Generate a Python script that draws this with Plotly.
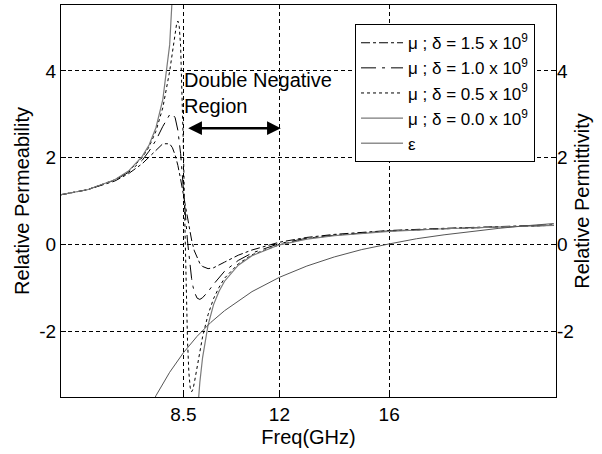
import plotly.graph_objects as go

# ---- data ----
freq_d15 = [4, 5, 6, 6.5, 7, 7.25, 7.5, 7.75, 8.0, 8.1, 8.2, 8.3, 8.4, 8.5, 8.6, 8.7, 8.8, 8.9, 9.0, 9.1,
            9.2, 9.4, 9.6, 9.8, 10, 10.5, 11, 12, 13, 14, 16, 18, 20, 22]
mu_d15 = [1.14, 1.26, 1.46, 1.63, 1.86, 2.02, 2.18, 2.32, 2.32, 2.23, 2.06, 1.82, 1.50, 1.14, 0.77, 0.41,
          0.10, -0.15, -0.32, -0.44, -0.51, -0.56, -0.54, -0.48, -0.41, -0.25, -0.13, 0.05, 0.16, 0.23,
          0.32, 0.37, 0.41, 0.45]

freq_d10 = [4, 5, 6, 6.5, 7, 7.25, 7.5, 7.75, 8.0, 8.1, 8.2, 8.3, 8.4, 8.45, 8.5, 8.55, 8.6, 8.65, 8.7, 8.75,
            8.8, 8.85, 8.9, 9.0, 9.1, 9.2, 9.4, 9.6, 9.8, 10, 10.5, 11, 12, 13, 14, 16, 18, 20, 22]
mu_d10 = [1.14, 1.26, 1.48, 1.66, 1.94, 2.15, 2.40, 2.72, 2.99, 3.01, 2.92, 2.63, 2.09, 1.73, 1.32, 0.90,
          0.48, 0.08, -0.27, -0.56, -0.79, -0.97, -1.10, -1.24, -1.27, -1.23, -1.09, -0.92, -0.76, -0.62,
          -0.37, -0.20, 0.02, 0.14, 0.21, 0.31, 0.36, 0.40, 0.44]

freq_d05 = [4, 5, 6, 6.5, 7, 7.25, 7.5, 7.75, 8.0, 8.1, 8.2, 8.25, 8.3, 8.35, 8.4, 8.45, 8.5, 8.55, 8.6,
            8.65, 8.7, 8.75, 8.8, 8.85, 8.9, 9.0, 9.1, 9.2, 9.4, 9.6, 9.8, 10, 10.5, 11, 12, 13, 14, 16,
            18, 20, 22]
mu_d05 = [1.14, 1.26, 1.49, 1.68, 2.00, 2.25, 2.61, 3.15, 3.99, 4.44, 4.90, 5.07, 5.15, 5.02, 4.57, 3.66,
          2.27, 0.60, -1.00, -2.21, -2.96, -3.31, -3.40, -3.34, -3.19, -2.82, -2.45, -2.13, -1.62, -1.25,
          -0.99, -0.78, -0.45, -0.24, -0.01, 0.13, 0.21, 0.31, 0.36, 0.40, 0.44]

freq_d00 = [4, 5, 6, 6.5, 7, 7.25, 7.5, 7.75, 8.0, 8.1, 8.15, 8.2, None, 8.85, 8.9, 9.0, 9.1, 9.2, 9.4,
            9.6, 9.8, 10, 10.5, 11, 12, 13, 14, 16, 18, 20, 22]
mu_d00 = [1.14, 1.26, 1.49, 1.69, 2.03, 2.29, 2.69, 3.34, 4.60, 5.50, 6.13, 6.94, None, -6.22, -5.28,
          -4.00, -3.18, -2.61, -1.86, -1.39, -1.08, -0.85, -0.48, -0.26, -0.01, 0.12, 0.20, 0.30, 0.36,
          0.40, 0.44]

freq_eps = [7.0, 7.5, 8, 8.5, 9, 9.5, 10, 11, 12, 13, 14, 15, 16, 17, 18, 19, 20, 21, 22]
eps = [-4.16, -3.49, -2.95, -2.50, -2.12, -1.80, -1.53, -1.09, -0.76, -0.50, -0.29, -0.12, 0.01, 0.13,
       0.22, 0.30, 0.37, 0.43, 0.48]

x_ticks = [8.5, 12, 16]
x_ticklabels = ["8.5", "12", "16"]
y_ticks = [-2, 0, 2, 4]
y_ticklabels = ["-2", "0", "2", "4"]

FONT = "Arial, Liberation Sans, Helvetica, sans-serif"

fig = go.Figure()
fig.add_trace(go.Scatter(x=freq_d15, y=mu_d15, mode="lines", name="μ ; δ = 1.5 x 10<sup>9</sup>",
                         line=dict(color="black", width=1, dash="dashdot")))
fig.add_trace(go.Scatter(x=freq_d10, y=mu_d10, mode="lines", name="μ ; δ = 1.0 x 10<sup>9</sup>",
                         line=dict(color="black", width=1, dash="longdashdot")))
fig.add_trace(go.Scatter(x=freq_d05, y=mu_d05, mode="lines", name="μ ; δ = 0.5 x 10<sup>9</sup>",
                         line=dict(color="black", width=1, dash="dot")))
fig.add_trace(go.Scatter(x=freq_d00, y=mu_d00, mode="lines", name="μ ; δ = 0.0 x 10<sup>9</sup>",
                         connectgaps=False, line=dict(color="#7a7a7a", width=1.2)))
fig.add_trace(go.Scatter(x=freq_eps, y=eps, mode="lines", name="ε", yaxis="y2",
                         line=dict(color="#555555", width=1)))

fig.add_annotation(x=8.45, y=3.5, xref="x", yref="y", text="Double Negative<br>Region",
                   showarrow=False, xanchor="left", yanchor="middle", align="left",
                   font=dict(family=FONT, size=20, color="black"))
fig.add_annotation(x=12.05, y=2.68, ax=8.62, ay=2.68, xref="x", yref="y", axref="x", ayref="y",
                   text="", showarrow=True, arrowhead=2, startarrowhead=2, arrowside="end+start",
                   arrowsize=1.1, startarrowsize=1.1, arrowwidth=2.5, arrowcolor="black")

grid = dict(showgrid=True, gridcolor="black", gridwidth=1, griddash="4px,3px")

fig.update_layout(
    width=602, height=454,
    margin=dict(l=61, r=46, t=5, b=57),
    paper_bgcolor="white", plot_bgcolor="white",
    font=dict(family=FONT, size=18, color="black"),
    showlegend=True,
    legend=dict(x=0.594, y=0.951, xanchor="left", yanchor="top",
                bgcolor="white", bordercolor="black", borderwidth=1,
                font=dict(family=FONT, size=17, color="black"),
                tracegroupgap=0, itemwidth=42),
    xaxis=dict(range=[4.04, 22.08], tickvals=x_ticks, ticktext=x_ticklabels,
               showline=True, linecolor="black", linewidth=1, mirror=True,
               ticks="inside", ticklen=5, tickcolor="black", zeroline=False,
               tickfont=dict(size=19),
               title=dict(text="Freq(GHz)", font=dict(size=20), standoff=6), **grid),
    yaxis=dict(range=[-3.52, 5.52], tickvals=y_ticks, ticktext=y_ticklabels,
               showline=True, linecolor="black", linewidth=1, mirror=True,
               ticks="inside", ticklen=5, tickcolor="black", zeroline=False,
               tickfont=dict(size=19),
               title=dict(text="Relative Permeability", font=dict(size=20), standoff=4), **grid),
    yaxis2=dict(range=[-3.52, 5.52], tickvals=y_ticks, ticktext=y_ticklabels,
                overlaying="y", side="right",
                showgrid=False, zeroline=False, showline=False,
                ticks="inside", ticklen=5, tickcolor="black",
                tickfont=dict(size=19),
                title=dict(text="Relative Permittivity", font=dict(size=20), standoff=2)),
)

fig.write_html("out.html", config={"displayModeBar": False},
               post_script="document.body.style.margin='0';")
